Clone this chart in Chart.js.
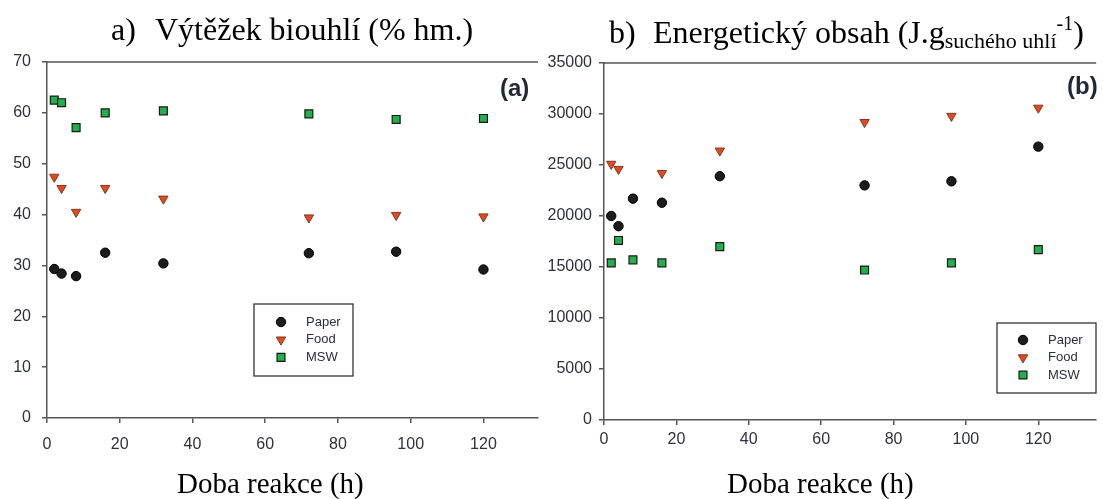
<!DOCTYPE html>
<html>
<head>
<meta charset="utf-8">
<script src="https://cdn.jsdelivr.net/npm/chart.js@4.4.1/dist/chart.umd.min.js"></script>
<style>
  body { margin: 0; background: #fff; width: 1103px; height: 499px; position: relative; overflow: hidden; }
  canvas { position: absolute; top: 0; }
  #chartA { left: 0; }
  #chartB { left: 545px; }
  .title { position: absolute; font-family: "Liberation Serif", "Times New Roman", serif; color: #000; white-space: nowrap; line-height: 1; }
  .head { font-size: 32px; top: 13px; }
  .head .lbl { display: inline-block; width: 44px; }
  .axis { font-size: 29px; top: 469px; }
  .tag { position: absolute; font-family: "Liberation Sans", Arial, sans-serif; font-weight: bold; font-size: 24px; color: #1f2738; line-height: 1; }
  sub { font-size: 22px; vertical-align: -5px; }
  sup { font-size: 20px; vertical-align: 13px; }
</style>
</head>
<body>
<canvas id="chartA" width="545" height="499"></canvas>
<canvas id="chartB" width="558" height="499"></canvas>

<div class="title head" style="left:111px"><span class="lbl">a)</span>Výtěžek biouhlí (% hm.)</div>
<div class="title head" style="left:609px"><span class="lbl">b)</span>Energetický obsah (J.g<sub>suchého uhlí</sub><sup>-1</sup>)</div>
<div class="title axis" style="left:177px">Doba reakce (h)</div>
<div class="title axis" style="left:727px">Doba reakce (h)</div>
<div class="tag" style="left:500px; top:76px">(a)</div>
<div class="tag" style="left:1067px; top:74px">(b)</div>

<script>
// reaction time (h)
const hours = [2, 4, 8, 16, 32, 72, 96, 120];

// a) biochar yield (% wt)
const yieldPaper = [29.3, 28.4, 27.9, 32.5, 30.4, 32.4, 32.7, 29.2];
const yieldFood  = [47.4, 45.2, 40.5, 45.2, 43.1, 39.4, 39.9, 39.6];
const yieldMsw   = [62.5, 62.0, 57.1, 60.0, 60.4, 59.8, 58.7, 58.9];

// b) energy content (J/g dry char)
const energyPaper = [20000, 19000, 21700, 21300, 23900, 23000, 23400, 26800];
const energyFood  = [25100, 24600, null, 24200, 26400, 29200, 29800, 30600];
const energyMsw   = [15400, 17600, 15700, 15400, 17000, 14700, 15400, 16700];

const seriesNames = ['Paper', 'Food', 'MSW'];

const axisColor = '#555';
const tickFont = { family: '"Liberation Sans", Arial, sans-serif', size: 16 };
const tickColor = '#2e3040';

function points(vals) {
    return hours.map((h, i) => ({ x: h, y: vals[i] })).filter(p => p.y !== null);
}

function makeDatasets(paper, food, msw) {
    return [
        {
            label: seriesNames[0], data: points(paper),
            pointStyle: 'circle', pointRadius: 4.7, rotation: 0,
            backgroundColor: '#1c1c1c', borderColor: '#000', borderWidth: 1
        },
        {
            label: seriesNames[1], data: points(food),
            pointStyle: 'triangle', pointRadius: 5.4, rotation: 180,
            backgroundColor: '#e8481c', borderColor: '#7a3a26', borderWidth: 1
        },
        {
            label: seriesNames[2], data: points(msw),
            pointStyle: 'rect', pointRadius: 5.6, rotation: 0,
            backgroundColor: '#22b04a', borderColor: '#1a1a1a', borderWidth: 1.2
        }
    ];
}

// top frame line of the plot area
const topLine = {
    id: 'topLine',
    afterDraw(chart) {
        const a = chart.chartArea, ctx = chart.ctx;
        ctx.save();
        ctx.strokeStyle = axisColor;
        ctx.lineWidth = 1.5;
        ctx.beginPath();
        ctx.moveTo(a.left, a.top);
        ctx.lineTo(a.right, a.top);
        ctx.stroke();
        ctx.restore();
    }
};

// framed legend inside the plot
const boxLegend = {
    id: 'boxLegend',
    afterDraw(chart, args, o) {
        const ctx = chart.ctx;
        ctx.save();
        ctx.fillStyle = '#fff';
        ctx.fillRect(o.left, o.top, o.width, o.height);
        ctx.strokeStyle = '#333';
        ctx.lineWidth = 1.3;
        ctx.strokeRect(o.left, o.top, o.width, o.height);
        chart.data.datasets.forEach((ds, i) => {
            const y = o.top + o.firstRow + i * o.rowGap;
            ctx.fillStyle = ds.backgroundColor;
            ctx.strokeStyle = ds.borderColor;
            ctx.lineWidth = ds.borderWidth;
            Chart.helpers.drawPoint(ctx, {
                pointStyle: ds.pointStyle, rotation: ds.rotation,
                radius: ds.pointRadius, borderWidth: ds.borderWidth
            }, o.left + o.markerX, y);
            ctx.fillStyle = '#2a2d48';
            ctx.font = '13px "Liberation Sans", Arial, sans-serif';
            ctx.textBaseline = 'middle';
            ctx.fillText(ds.label, o.left + o.textX, y);
        });
        ctx.restore();
    }
};

function makeChart(id, datasets, cfg) {
    return new Chart(document.getElementById(id), {
        type: 'scatter',
        data: { datasets: datasets },
        plugins: [topLine, boxLegend],
        options: {
            responsive: false,
            animation: false,
            layout: { padding: cfg.padding },
            plugins: {
                legend: { display: false },
                tooltip: { enabled: false },
                boxLegend: cfg.legend
            },
            scales: {
                x: {
                    type: 'linear', min: 0, max: cfg.xMax,
                    afterFit: s => { s.height = 40; },
                    border: { color: axisColor, width: 1.5 },
                    grid: { drawOnChartArea: false, tickLength: 5, color: axisColor, lineWidth: 1.5 },
                    ticks: {
                        stepSize: 20, includeBounds: false, maxRotation: 0,
                        padding: cfg.xPad, font: tickFont, color: tickColor
                    }
                },
                y: {
                    type: 'linear', min: 0, max: cfg.yMax,
                    afterFit: s => { s.width = cfg.yWidth; },
                    border: { color: axisColor, width: 1.5 },
                    grid: { drawOnChartArea: false, tickLength: 5, color: axisColor, lineWidth: 1.5 },
                    ticks: {
                        stepSize: cfg.yStep, padding: cfg.yPad,
                        font: tickFont, color: tickColor,
                        callback: v => String(v)
                    }
                }
            }
        }
    });
}

makeChart('chartA', makeDatasets(yieldPaper, yieldFood, yieldMsw), {
    padding: { left: 0, right: 7, top: 62, bottom: 41 },
    xMax: 135, xPad: 12,
    yMax: 70, yStep: 10, yWidth: 47, yPad: 11,
    legend: { left: 254, top: 304, width: 99, height: 72, markerX: 27, textX: 52, firstRow: 18, rowGap: 17.7 }
});

makeChart('chartB', makeDatasets(energyPaper, energyFood, energyMsw), {
    padding: { left: 0, right: 3, top: 63, bottom: 39 },
    xMax: 136, xPad: 5,
    yMax: 35000, yStep: 5000, yWidth: 59, yPad: 7,
    legend: { left: 452, top: 323, width: 99, height: 70, markerX: 26, textX: 51, firstRow: 17, rowGap: 17.5 }
});
</script>
</body>
</html>
